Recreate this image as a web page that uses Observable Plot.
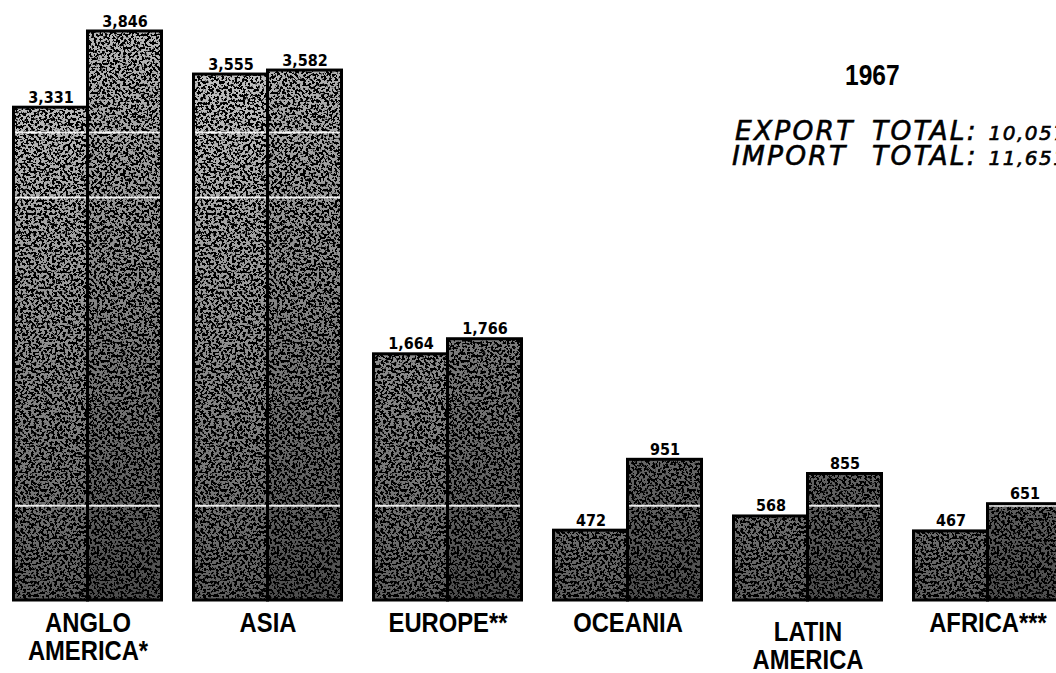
<!DOCTYPE html>
<html>
<head>
<meta charset="utf-8">
<script src="https://cdn.jsdelivr.net/npm/d3@7"></script>
<script src="https://cdn.jsdelivr.net/npm/@observablehq/plot@0.6"></script>
<style>
  html, body { margin: 0; padding: 0; background: #fff; }
  body { width: 1056px; height: 673px; overflow: hidden; position: relative; }
  #chart { position: absolute; left: 0; top: 0; }
  #titles { position: absolute; left: 0; top: 0; pointer-events: none; }
</style>
</head>
<body>
<div id="chart"></div>
<svg id="titles" width="1056" height="673"></svg>
<script>
// ---- data ----
const regions = ["ANGLO\nAMERICA*", "ASIA", "EUROPE**", "OCEANIA", "LATIN\nAMERICA", "AFRICA***"];
const seriesNames = ["Export", "Import"];
const exportValues = [3331, 3555, 1664, 472, 568, 467];
const importValues = [3846, 3582, 1766, 951, 855, 651];
const year = "1967";
// faint white seams visible across the printed bars
const seams = [640, 2724, 3163];

const table = regions.flatMap((r, i) => [
  {region: r, type: seriesNames[0], value: exportValues[i]},
  {region: r, type: seriesNames[1], value: importValues[i]}
]);
const lowLabel = "LATIN\nAMERICA";
const regionRows = regions.map(r => ({region: r}));

const fmt = d3.format(",");
const valueFont = {fontFamily: "'DejaVu Sans Condensed', 'DejaVu Sans', sans-serif", fontWeight: "bold", fontSize: 16, fill: "black"};
const regionFont = {fontFamily: "'Liberation Sans', Arial, sans-serif", fontWeight: "bold", fontSize: 28, fill: "black", lineHeight: 1.02};

const chart = Plot.plot({
  width: 1080,
  height: 673,
  marginLeft: 10.5,
  marginRight: 14.5,
  marginTop: 31,
  marginBottom: 73,
  style: {background: "transparent", overflow: "visible", maxWidth: "none"},
  fx: {domain: regions, paddingInner: 0.171, paddingOuter: 0, axis: null, label: null},
  x: {domain: seriesNames, padding: 0, axis: null},
  y: {domain: [0, d3.max(importValues)], axis: null},
  marks: [
    Plot.barY(table, {filter: d => d.type === seriesNames[0], fx: "region", x: "type", y: "value", inset: 0, fill: "url(#gradExp)"}),
    Plot.barY(table, {filter: d => d.type === seriesNames[1], fx: "region", x: "type", y: "value", inset: 0, fill: "url(#gradImp)"}),
    Plot.ruleY(seams, {stroke: "white", strokeWidth: 2, strokeOpacity: 0.9}),
    Plot.barY(table, {fx: "region", x: "type", y: "value", inset: 0, fill: "none", stroke: "black", strokeWidth: 3}),
    Plot.text(table, {fx: "region", x: "type", y: "value", text: d => fmt(d.value), lineAnchor: "bottom", dy: -5, ...valueFont}),
    Plot.text(regionRows, {filter: d => d.region !== lowLabel, fx: "region", text: "region", frameAnchor: "bottom", lineAnchor: "top", dy: 11, ...regionFont}),
    Plot.text(regionRows, {filter: d => d.region === lowLabel, fx: "region", text: "region", frameAnchor: "bottom", lineAnchor: "top", dy: 20, ...regionFont})
  ]
});
document.getElementById("chart").appendChild(chart);

// ---- texture defs ----
const ys = chart.scale("y");
const yTop = ys.apply(d3.max(importValues));
const yBase = ys.apply(0);
const svg = d3.select(chart.tagName.toLowerCase() === "svg" ? chart : chart.querySelector("svg"));
const defs = svg.insert("defs", ":first-child");
function grad(id, top, bottom) {
  const g = defs.append("linearGradient").attr("id", id)
    .attr("gradientUnits", "userSpaceOnUse")
    .attr("x1", 0).attr("x2", 0).attr("y1", yTop).attr("y2", yBase);
  g.append("stop").attr("offset", "0").attr("stop-color", top);
  g.append("stop").attr("offset", "1").attr("stop-color", bottom);
}
grad("gradExp", "#c8c8c8", "#606060");
grad("gradImp", "#b8b8b8", "#4c4c4c");
const f = defs.append("filter").attr("id", "grain")
  .attr("x", 0).attr("y", 0).attr("width", 1).attr("height", 1)
  .attr("color-interpolation-filters", "sRGB");
f.append("feTurbulence").attr("type", "fractalNoise").attr("baseFrequency", 0.38)
  .attr("numOctaves", 2).attr("seed", 7).attr("result", "noise");
f.append("feColorMatrix").attr("in", "noise").attr("type", "matrix")
  .attr("values", "0 0 0 0 0  0 0 0 0 0  0 0 0 0 0  -18 0 0 0 9.2").attr("result", "dots");
f.append("feFlood").attr("flood-color", "white").attr("result", "w");
f.append("feComposite").attr("in", "dots").attr("in2", "w").attr("operator", "over").attr("result", "bw");
f.append("feBlend").attr("in", "SourceGraphic").attr("in2", "bw").attr("mode", "multiply").attr("result", "m");
f.append("feComposite").attr("in", "m").attr("in2", "SourceGraphic").attr("operator", "in");
svg.selectAll('[fill^="url(#grad"]').attr("filter", "url(#grain)");

// condense the region labels horizontally (the original uses a condensed face)
svg.selectAll("g").filter(function() { return this.getAttribute("font-size") === "28"; })
  .selectAll("text").each(function() {
    const tr = this.getAttribute("transform") || "";
    this.setAttribute("transform", tr + " scale(0.85,1)");
  });

// ---- title block ----
const t = d3.select("#titles");
const titleFont = "'DejaVu Sans', sans-serif";
t.append("text").attr("transform", "translate(845,85) scale(0.82,1)")
  .attr("font-family", "'Liberation Sans', Arial, sans-serif")
  .attr("font-weight", "bold").attr("font-size", 30).text(year);
const lines = [
  {word: "EXPORT", x: 735, y: 140, total: fmt(d3.sum(exportValues))},
  {word: "IMPORT", x: 732, y: 165, total: fmt(d3.sum(importValues))}
];
for (const l of lines) {
  t.append("text").attr("x", l.x).attr("y", l.y)
    .attr("font-family", titleFont).attr("font-style", "italic")
    .attr("stroke", "black").attr("stroke-width", 0.6)
    .attr("font-size", 26.5).attr("letter-spacing", 2.2).text(l.word);
  const tt = t.append("text").attr("x", 872).attr("y", l.y)
    .attr("font-family", titleFont).attr("font-style", "italic")
    .attr("stroke", "black").attr("stroke-width", 0.6)
    .attr("font-size", 26.5).attr("letter-spacing", 2.2);
  tt.append("tspan").text("TOTAL: ");
  tt.append("tspan").attr("font-size", 20).attr("letter-spacing", 1.5).text(l.total);
}
</script>
</body>
</html>
